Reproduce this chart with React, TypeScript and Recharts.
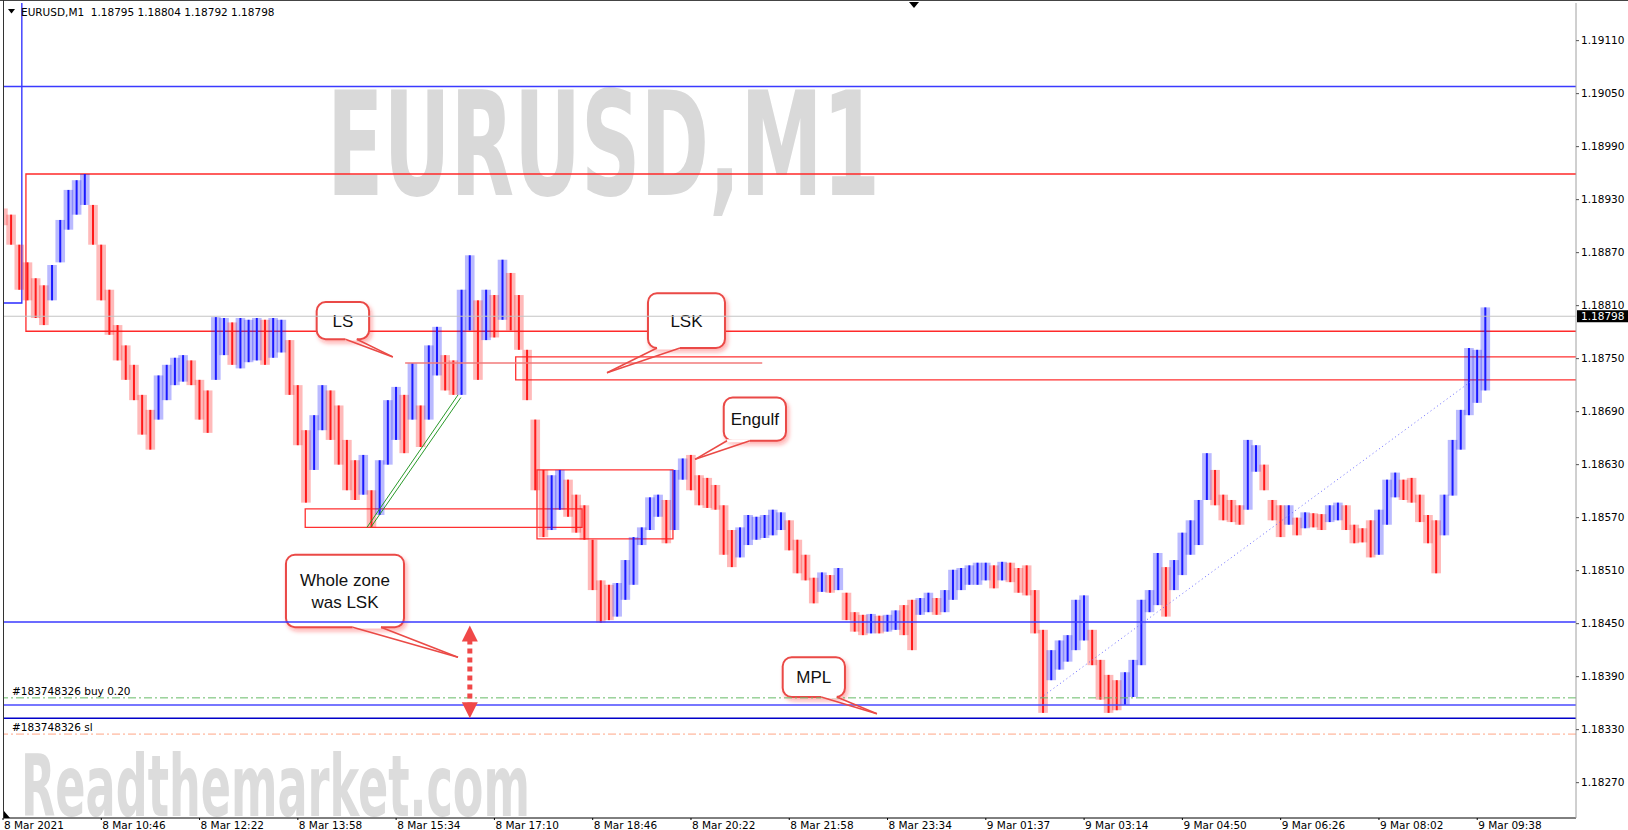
import React from "react";
import {
  ComposedChart,
  Bar,
  XAxis,
  YAxis,
  ReferenceLine,
  ReferenceArea,
  ReferenceDot,
} from "recharts";

const hi = [
  1.1892, 1.18913, 1.18879, 1.18859, 1.18841, 1.18833, 1.18856, 1.18907, 1.18941, 1.18952,
  1.18959, 1.18924, 1.18879, 1.18828, 1.18788, 1.18765, 1.18743, 1.18709, 1.18692, 1.18731,
  1.18743, 1.18751, 1.18754, 1.18748, 1.18726, 1.18714, 1.18797, 1.18796, 1.18791, 1.18796,
  1.18794, 1.18796, 1.18794, 1.18796, 1.18794, 1.18771, 1.1872, 1.18669, 1.18686, 1.1872,
  1.18714, 1.18697, 1.18658, 1.18635, 1.18641, 1.18601, 1.18635, 1.18703, 1.18718, 1.18709,
  1.18745, 1.18697, 1.18765, 1.18786, 1.18754, 1.18748, 1.18828, 1.18867, 1.18816, 1.18828,
  1.18822, 1.18862, 1.18847, 1.18822, 1.1876, 1.18681, 1.18624, 1.18618, 1.18624, 1.18613,
  1.18596, 1.18584, 1.18545, 1.18499, 1.18494, 1.18496, 1.18522, 1.18548, 1.18559, 1.18593,
  1.18596, 1.1859, 1.18624, 1.18637, 1.18641, 1.18618, 1.18615, 1.18607, 1.18584, 1.18556,
  1.18559, 1.18573, 1.18571, 1.18573, 1.18579, 1.18576, 1.18567, 1.18545, 1.18528, 1.18502,
  1.18508, 1.18505, 1.18513, 1.18485, 1.18463, 1.1846, 1.18461, 1.18459, 1.1846, 1.18465,
  1.18471, 1.18477, 1.18479, 1.18485, 1.18479, 1.18488, 1.18511, 1.18513, 1.18516, 1.18519,
  1.18519, 1.18516, 1.1852, 1.18519, 1.18513, 1.18516, 1.18488, 1.18443, 1.1842, 1.18431,
  1.18437, 1.18477, 1.18482, 1.18443, 1.18409, 1.18392, 1.18386, 1.18395, 1.18409, 1.18477,
  1.18488, 1.1853, 1.18514, 1.18522, 1.18553, 1.18567, 1.1859, 1.18643, 1.18624, 1.18596,
  1.1859, 1.18584, 1.18658, 1.18652, 1.1863, 1.1859, 1.18584, 1.18584, 1.1857, 1.18576,
  1.18575, 1.18574, 1.18584, 1.18587, 1.18584, 1.18562, 1.18558, 1.18567, 1.18579, 1.18613,
  1.18621, 1.18613, 1.18615, 1.18596, 1.18573, 1.18567, 1.18596, 1.18658, 1.18692, 1.18762,
  1.1876, 1.18808,
];
const lo = [
  1.18901, 1.18879, 1.18828, 1.18816, 1.18796, 1.18788, 1.18816, 1.18859, 1.18896, 1.18913,
  1.18924, 1.18879, 1.18816, 1.18777, 1.18748, 1.18726, 1.18703, 1.18664, 1.18647, 1.18681,
  1.18703, 1.1872, 1.18724, 1.1872, 1.18681, 1.18666, 1.18726, 1.18754, 1.18743, 1.18739,
  1.18746, 1.18748, 1.18743, 1.18751, 1.18757, 1.18709, 1.18652, 1.18587, 1.18624, 1.18669,
  1.18658, 1.1863, 1.18601, 1.1859, 1.18596, 1.18559, 1.18573, 1.1863, 1.18658, 1.18643,
  1.18681, 1.1865, 1.18681, 1.18731, 1.18714, 1.18709, 1.18709, 1.18782, 1.18726, 1.18771,
  1.18774, 1.18794, 1.18782, 1.1876, 1.18703, 1.18601, 1.18548, 1.18556, 1.18579, 1.18571,
  1.18553, 1.18545, 1.18488, 1.18451, 1.18454, 1.18458, 1.18477, 1.18494, 1.18539, 1.18556,
  1.18571, 1.18541, 1.18556, 1.18613, 1.18601, 1.18584, 1.18581, 1.18579, 1.18528, 1.18514,
  1.18525, 1.18539, 1.18545, 1.18547, 1.1855, 1.18556, 1.18533, 1.18507, 1.18499, 1.18473,
  1.18486, 1.18485, 1.18488, 1.18454, 1.18441, 1.18437, 1.18439, 1.18439, 1.18441, 1.18443,
  1.18437, 1.1842, 1.1846, 1.18463, 1.1846, 1.18463, 1.18477, 1.18488, 1.18494, 1.18494,
  1.18499, 1.1849, 1.18499, 1.18497, 1.18485, 1.18482, 1.18439, 1.18349, 1.18386, 1.18398,
  1.18407, 1.1842, 1.18431, 1.18403, 1.18364, 1.18349, 1.18352, 1.18358, 1.18367, 1.18403,
  1.18463, 1.18471, 1.18458, 1.18488, 1.18505, 1.18528, 1.18539, 1.1859, 1.18584, 1.18567,
  1.18565, 1.18562, 1.18579, 1.18622, 1.18601, 1.18567, 1.18548, 1.18562, 1.1855, 1.18558,
  1.18559, 1.18556, 1.18565, 1.18567, 1.18556, 1.18541, 1.18542, 1.18525, 1.18528, 1.18562,
  1.18593, 1.1859, 1.18587, 1.18565, 1.18541, 1.18507, 1.1855, 1.18595, 1.18647, 1.18686,
  1.187, 1.18714,
];

const timeTicks = [0, 12, 24, 36, 48, 60, 72, 84, 96, 108, 120, 132, 144, 156, 168, 180];
const timeLabels = [
  "8 Mar 2021", "8 Mar 10:46", "8 Mar 12:22", "8 Mar 13:58", "8 Mar 15:34", "8 Mar 17:10",
  "8 Mar 18:46", "8 Mar 20:22", "8 Mar 21:58", "8 Mar 23:34", "9 Mar 01:37", "9 Mar 03:14",
  "9 Mar 04:50", "9 Mar 06:26", "9 Mar 08:02", "9 Mar 09:38",
];
const priceTicks = [
  1.1827, 1.1833, 1.1839, 1.1845, 1.1851, 1.1857, 1.1863, 1.1869, 1.1875, 1.1881, 1.1887,
  1.1893, 1.1899, 1.1905, 1.1911,
];

const lastOHLC = [1.18795, 1.18804, 1.18792, 1.18798];
const lastPrice = 1.18798;
const buyPrice = 1.18366;
const slPrice = 1.18325;

const X_MAX = 192.06;
const Y_MIN = 1.1823;
const Y_MAX = 1.191526;

const BLUE = "#1a1aff";
const RED = "#ff1a1a";
const FONT = "'DejaVu Sans', Tahoma, sans-serif";
const CALL_FONT = "'Liberation Sans', Arial, sans-serif";
const MARK_FONT = "'Liberation Sans Narrow','DejaVu Sans Condensed','Liberation Sans',sans-serif";

const bars = hi.map((h, i) => ({
  i,
  hi: h,
  lo: lo[i],
  up: i > 0 && h + lo[i] > hi[i - 1] + lo[i - 1],
}));

// chart objects drawn by hand on the terminal
const callouts = [
  { lines: ["LS"], x1: 38.3, x2: 44.7, y1: 1.18772, y2: 1.18814, base: [41.8, 43.2], tip: [47.6, 1.18752] },
  { lines: ["LSK"], x1: 78.75, x2: 88.15, y1: 1.18762, y2: 1.18824, base: [79.85, 82.66], tip: [73.75, 1.18734] },
  { lines: ["Engulf"], x1: 88.0, x2: 95.6, y1: 1.18657, y2: 1.18706, base: [88.4, 91.2], tip: [84.5, 1.18636] },
  { lines: ["Whole zone", "was LSK"], x1: 34.55, x2: 48.96, y1: 1.18446, y2: 1.18528, base: [42.7, 46.15], tip: [55.55, 1.18412] },
  { lines: ["MPL"], x1: 95.2, x2: 102.8, y1: 1.18367, y2: 1.18412, base: [99.9, 101.8], tip: [106.7, 1.18348] },
];

const zones = [
  { x1: 2.8, x2: 200, y1: 1.18781, y2: 1.18959, color: "#ff2a2a" },
  { x1: 62.6, x2: 200, y1: 1.18726, y2: 1.18752, color: "#ff3030" },
  { x1: 36.9, x2: 70.7, y1: 1.18559, y2: 1.1858, color: "#ff3030" },
  { x1: 65.2, x2: 81.8, y1: 1.18546, y2: 1.18624, color: "#ff3030" },
  { x1: -1, x2: 2.3, y1: 1.18813, y2: 1.193, color: "#2a2aff" },
];

const levels = [
  { y: 1.19058, color: "#3a3aff", width: 1.5, dash: undefined },
  { y: 1.18452, color: "#3a3aff", width: 1.5, dash: undefined },
  { y: buyPrice, color: "#66bb66", width: 1, dash: "8 3 2 3" },
  { y: 1.18358, color: "#4a4aff", width: 1.5, dash: undefined },
  { y: 1.18343, color: "#0000c8", width: 1.5, dash: undefined },
  { y: slPrice, color: "#ffa585", width: 1, dash: "8 3 2 3" },
];

const Candle = (p: any) => {
  const { x, y, width, height, payload } = p;
  const top = Math.min(y, y + height);
  const h = Math.max(1.5, Math.abs(height));
  const c = payload.up ? BLUE : RED;
  return (
    <g>
      <rect x={x - 0.8} y={top} width={width + 1.6} height={h} fill={c} fillOpacity={0.3} />
      <rect x={x + width / 2 - 1} y={top} width={2} height={h} fill={c} />
    </g>
  );
};

const callShape = (lines: string[]) => (p: any) => {
  const { x, y, width, height } = p;
  const lh = 22;
  const y0 = y + height / 2 - ((lines.length - 1) * lh) / 2;
  return (
    <g>
      <rect
        x={x}
        y={y}
        width={width}
        height={height}
        rx={9}
        fill="#fff"
        stroke="#ea4a46"
        strokeWidth={2}
        filter="url(#callShadow)"
      />
      {lines.map((t, k) => (
        <text
          key={k}
          x={x + width / 2}
          y={y0 + k * lh}
          dy="0.36em"
          textAnchor="middle"
          fontSize={17}
          fontFamily={CALL_FONT}
          fill="#111"
        >
          {t}
        </text>
      ))}
    </g>
  );
};

const TimeTick = (p: any) => {
  const k = timeTicks.indexOf(p.payload.value);
  return (
    <text x={p.x + 1} y={p.y} dy="0.71em" fontSize={10.5} fontFamily={FONT} fill="#000">
      {timeLabels[k]}
    </text>
  );
};

const arrowHead = (dir: number) => (p: any) => {
  const { cx, cy } = p;
  return (
    <polygon
      points={`${cx},${cy} ${cx - 8},${cy + dir * 16} ${cx + 8},${cy + dir * 16}`}
      fill="#f04848"
    />
  );
};

export default function App() {
  return (
    <div style={{ position: "absolute", left: 0, top: 0, width: 1628, height: 830, background: "#fff" }}>
      <svg width={1628} height={818} style={{ position: "absolute", left: 0, top: 0 }}>
        <defs>
          <filter id="callShadow" x="-20%" y="-20%" width="150%" height="160%">
            <feDropShadow dx="2" dy="3" stdDeviation="2" floodColor="#ff2020" floodOpacity="0.35" />
          </filter>
        </defs>
        <text
          x={327}
          y={195}
          fontSize={145}
          fontWeight="bold"
          fontFamily={MARK_FONT}
          fill="#d9d9d9"
          textLength={553}
          lengthAdjust="spacingAndGlyphs"
        >
          EURUSD,M1
        </text>
        <text
          x={21}
          y={816}
          fontSize={86}
          fontWeight="bold"
          fontFamily={MARK_FONT}
          fill="#dcdcdc"
          textLength={509}
          lengthAdjust="spacingAndGlyphs"
        >
          Readthemarket.com
        </text>
      </svg>

      <div style={{ position: "absolute", left: 0, top: 0 }}>
        <ComposedChart
          width={1628}
          height={830}
          data={bars}
          margin={{ top: 3, right: 0, left: 3, bottom: 0 }}
        >
          <XAxis
            dataKey="i"
            type="number"
            domain={[0, X_MAX]}
            allowDataOverflow
            ticks={timeTicks}
            interval={0}
            height={12}
            tickSize={2}
            tickMargin={2}
            axisLine={{ stroke: "#000" }}
            tickLine={{ stroke: "#000" }}
            tick={<TimeTick />}
          />
          <YAxis
            orientation="right"
            type="number"
            domain={[Y_MIN, Y_MAX]}
            allowDataOverflow
            ticks={priceTicks}
            interval={0}
            width={52}
            tickSize={3}
            tickMargin={2}
            axisLine={{ stroke: "#a0a0a0" }}
            tickLine={{ stroke: "#555" }}
            tickFormatter={(v: number) => v.toFixed(5)}
            tick={{ fontSize: 10.5, fill: "#000", fontFamily: FONT }}
          />

          {zones.map((z, k) => (
            <ReferenceArea
              key={"z" + k}
              x1={z.x1}
              x2={z.x2}
              y1={z.y1}
              y2={z.y2}
              fill="none"
              fillOpacity={0}
              stroke={z.color}
              strokeWidth={1.3}
              ifOverflow="hidden"
            />
          ))}

          {levels.map((l, k) => (
            <ReferenceLine
              key={"l" + k}
              y={l.y}
              stroke={l.color}
              strokeWidth={l.width}
              strokeDasharray={l.dash}
              label={
                l.y === buyPrice || l.y === slPrice
                  ? (p: any) => (
                      <text
                        x={p.viewBox.x + 9}
                        y={p.viewBox.y - 3}
                        fontSize={10.5}
                        fontFamily={FONT}
                        fill="#000"
                      >
                        {l.y === buyPrice ? "#183748326 buy 0.20" : "#183748326 sl"}
                      </text>
                    )
                  : undefined
              }
            />
          ))}

          <ReferenceLine
            y={lastPrice}
            stroke="#c4c4c4"
            strokeWidth={1}
            label={(p: any) => (
              <g>
                <rect x={p.viewBox.x + p.viewBox.width + 1} y={p.viewBox.y - 6} width={51} height={12} fill="#000" />
                <text
                  x={p.viewBox.x + p.viewBox.width + 5}
                  y={p.viewBox.y}
                  dy="0.36em"
                  fontSize={10.5}
                  fontFamily={FONT}
                  fill="#fff"
                >
                  {lastPrice.toFixed(5)}
                </text>
              </g>
            )}
          />

          <Bar
            dataKey={(d: any) => [d.lo, d.hi]}
            barSize={8}
            isAnimationActive={false}
            shape={<Candle />}
          />

          {/* LS line */}
          <ReferenceLine
            segment={[{ x: 49.1, y: 1.18745 }, { x: 92.7, y: 1.18745 }]}
            stroke="#f27a7a"
            strokeWidth={1.5}
          />
          {/* green trend channel */}
          <ReferenceLine segment={[{ x: 44.44, y: 1.18559 }, { x: 55.56, y: 1.18709 }]} stroke="#2a9a2a" strokeWidth={1} />
          <ReferenceLine segment={[{ x: 44.9, y: 1.18559 }, { x: 55.9, y: 1.18706 }]} stroke="#2a9a2a" strokeWidth={1} />
          {/* blue dotted trend line */}
          <ReferenceLine
            segment={[{ x: 126.7, y: buyPrice }, { x: 179.2, y: 1.18724 }]}
            stroke="#6a6aff"
            strokeWidth={1}
            strokeDasharray="1 3"
          />

          {/* dotted red double arrow */}
          <ReferenceLine
            segment={[{ x: 57, y: 1.18432 }, { x: 57, y: 1.18359 }]}
            stroke="#f04848"
            strokeWidth={5}
            strokeDasharray="5 4"
          />
          <ReferenceDot x={57} y={1.18448} r={0} shape={arrowHead(1)} />
          <ReferenceDot x={57} y={1.18343} r={0} shape={arrowHead(-1)} />

          {callouts.map((c, k) => (
            <ReferenceArea
              key={"c" + k}
              x1={c.x1}
              x2={c.x2}
              y1={c.y1}
              y2={c.y2}
              shape={callShape(c.lines)}
            />
          ))}
          {callouts.map((c, k) => (
            <ReferenceLine
              key={"cb" + k}
              segment={[{ x: c.base[0], y: c.y1 }, { x: c.base[1], y: c.y1 }]}
              stroke="#fff"
              strokeWidth={3}
            />
          ))}
          {callouts.map((c, k) => (
            <ReferenceLine
              key={"ta" + k}
              segment={[{ x: c.base[0], y: c.y1 }, { x: c.tip[0], y: c.tip[1] }]}
              stroke="#ea4a46"
              strokeWidth={1.6}
            />
          ))}
          {callouts.map((c, k) => (
            <ReferenceLine
              key={"tb" + k}
              segment={[{ x: c.base[1], y: c.y1 }, { x: c.tip[0], y: c.tip[1] }]}
              stroke="#ea4a46"
              strokeWidth={1.6}
            />
          ))}
        </ComposedChart>
      </div>

      <svg width={1628} height={830} style={{ position: "absolute", left: 0, top: 0, pointerEvents: "none" }}>
        <line x1={0} x2={1628} y1={0.5} y2={0.5} stroke="#444" />
        <line x1={3.5} x2={3.5} y1={0} y2={818} stroke="#333" />
        <polygon points="8,9 15,9 11.5,13.5" fill="#000" />
        <text x={21} y={12.5} dy="0.36em" fontSize={10.5} fontFamily={FONT} fill="#000" xmlSpace="preserve">
          {"EURUSD,M1  " + lastOHLC.map((v) => v.toFixed(5)).join(" ")}
        </text>
        <polygon points="909,2 919,2 914,8" fill="#000" />
        <polygon points="4,811 4,818 10,818" fill="#000" />
      </svg>
    </div>
  );
}
